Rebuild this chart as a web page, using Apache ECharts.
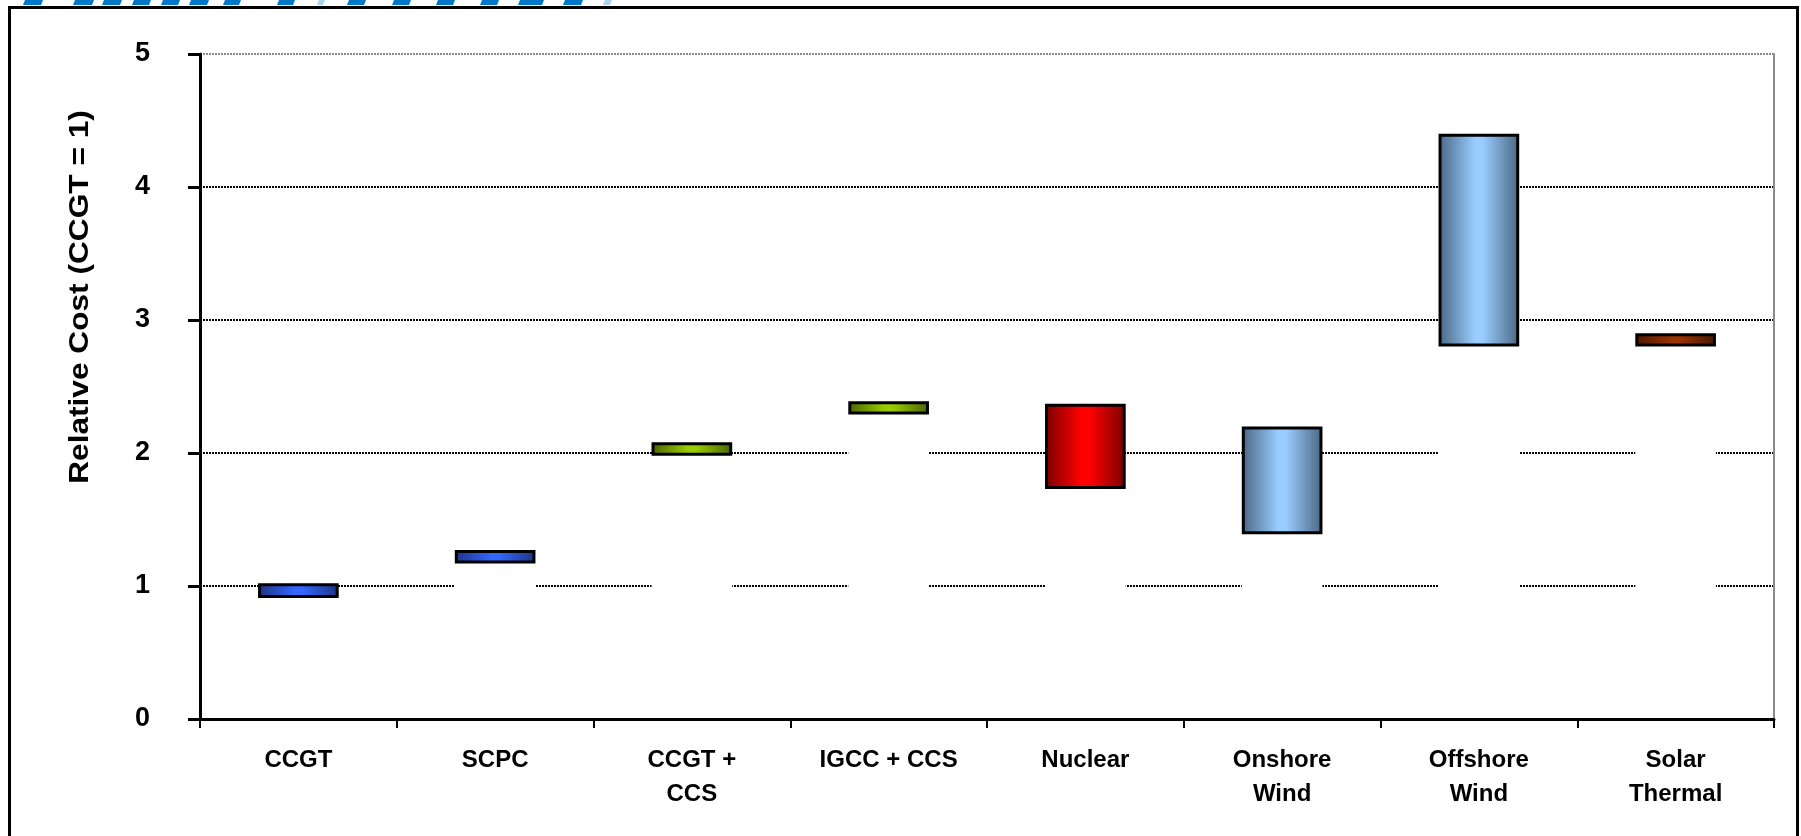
<!DOCTYPE html>
<html>
<head>
<meta charset="utf-8">
<title>Relative Cost</title>
<script src="https://cdn.jsdelivr.net/npm/echarts@6/dist/echarts.min.js"></script>
<style>
  html, body { margin: 0; padding: 0; background: #fff; }
  #chart { width: 1801px; height: 836px; }
</style>
</head>
<body>
<div id="chart"></div>
<script>
// Generation technologies on the category axis
const categories = ['CCGT', 'SCPC', 'CCGT +\nCCS', 'IGCC + CCS', 'Nuclear', 'Onshore\nWind', 'Offshore\nWind', 'Solar\nThermal'];
// Low and high end of each cost range, relative to CCGT
const lowCost  = [0.91, 1.17, 1.98, 2.29, 1.73, 1.39, 2.80, 2.80];
const highCost = [1.02, 1.27, 2.08, 2.39, 2.37, 2.20, 4.40, 2.90];
// Value axis ticks
const yTicks = [0, 1, 2, 3, 4, 5];

// Edge / centre colours of the shaded range bars, one pair per technology
const barShades = [
  ['#1c3484', '#3366ff'],
  ['#1c3484', '#3366ff'],
  ['#4a6400', '#99cc00'],
  ['#4a6400', '#99cc00'],
  ['#7a0000', '#ff0000'],
  ['#4a6682', '#99ccff'],
  ['#4a6682', '#99ccff'],
  ['#4a1800', '#993300']
];

const FONT = '"Liberation Sans", Arial, sans-serif';

function shade(pair) {
  return new echarts.graphic.LinearGradient(0, 0, 1, 0, [
    { offset: 0, color: pair[0] },
    { offset: 0.45, color: pair[1] },
    { offset: 0.55, color: pair[1] },
    { offset: 1, color: pair[0] }
  ]);
}

// Stacked pair: an opaque white base up to the low end, then the range itself
const baseData = lowCost.map(v => v);
const rangeData = highCost.map((h, i) => ({
  value: +(h - lowCost[i]).toFixed(3),
  itemStyle: { color: shade(barShades[i]) }
}));

// Blue strip along the very top edge
const stripDark = [[23,41],[73,92],[102,120],[132,149],[161,178],[189,207],[223,239],[277,293],
                   [347,364],[392,409],[436,453],[480,497],[518,542],[563,581]];
const stripLight = [[317,323],[603,610]];
function stripPieces(list, color) {
  return list.map(([a, b]) => ({
    type: 'polygon',
    silent: true,
    shape: { points: [[a, 5], [b, 5], [b + 2, 0], [a + 2, 0]] },
    style: { fill: color }
  }));
}

const chart = echarts.init(document.getElementById('chart'), null, { renderer: 'canvas' });

chart.setOption({
  animation: false,
  backgroundColor: '#ffffff',
  grid: { left: 200, right: 27, top: 54, bottom: 117, containLabel: false },
  xAxis: {
    type: 'category',
    data: categories,
    boundaryGap: true,
    z: 10,
    axisLine: { show: true, lineStyle: { color: '#000', width: 3 } },
    axisTick: { show: true, alignWithLabel: false, length: 9, lineStyle: { color: '#000', width: 2 } },
    axisLabel: {
      interval: 0,
      margin: 24,
      color: '#000',
      fontFamily: FONT,
      fontWeight: 'bold',
      fontSize: 24,
      lineHeight: 34
    },
    splitLine: { show: false }
  },
  yAxis: [
    {
      type: 'value',
      min: yTicks[0],
      max: yTicks[yTicks.length - 1],
      interval: 1,
      axisLine: { show: true, onZero: false, lineStyle: { color: '#000', width: 3 } },
      axisTick: { show: true, length: 12, lineStyle: { color: '#000', width: 3 } },
      axisLabel: {
        margin: 50,
        color: '#000',
        fontFamily: FONT,
        fontWeight: 'bold',
        fontSize: 27
      },
      splitLine: {
        show: true,
        lineStyle: {
          color: ['#000', '#000', '#000', '#000', '#000', '#8c8c8c'],
          width: 2,
          type: [2, 1]
        }
      }
    },
    {
      type: 'value',
      position: 'right',
      min: yTicks[0],
      max: yTicks[yTicks.length - 1],
      interval: 1,
      axisLine: { show: true, lineStyle: { color: '#8c8c8c', width: 2 } },
      axisTick: { show: false },
      axisLabel: { show: false },
      splitLine: { show: false }
    }
  ],
  series: [
    {
      name: 'base',
      type: 'bar',
      stack: 'cost',
      barWidth: '41%',
      silent: true,
      itemStyle: { color: '#ffffff' },
      data: baseData,
      z: 2
    },
    {
      name: 'range',
      type: 'bar',
      stack: 'cost',
      barWidth: '41%',
      itemStyle: { borderColor: '#000', borderWidth: 3 },
      data: rangeData,
      z: 3
    }
  ],
  graphic: [
    {
      type: 'rect',
      silent: true,
      shape: { x: 9.5, y: 7.5, width: 1788, height: 1000 },
      style: { fill: 'none', stroke: '#000', lineWidth: 3 }
    },
    {
      // value-axis title, stretched along its length
      type: 'text',
      silent: true,
      x: 80,
      y: 297,
      rotation: Math.PI / 2,
      scaleX: 1.13,
      style: {
        text: 'Relative Cost (CCGT = 1)',
        fill: '#000',
        font: 'bold 28px ' + FONT,
        align: 'center',
        verticalAlign: 'middle'
      }
    },
    ...stripPieces(stripDark, '#0077c8'),
    ...stripPieces(stripLight, '#a8d4f0')
  ]
});
</script>
</body>
</html>
